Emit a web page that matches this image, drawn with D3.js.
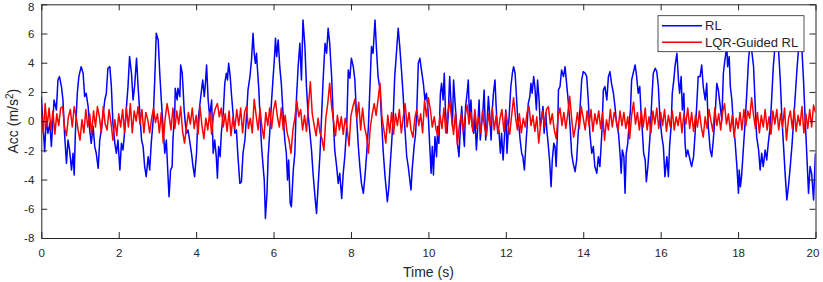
<!DOCTYPE html>
<html><head><meta charset="utf-8">
<script src="https://cdn.jsdelivr.net/npm/d3@7/dist/d3.min.js"></script>
<style>
body{margin:0;background:#fff}
svg{display:block}
text{font-family:"Liberation Sans",Arial,Helvetica,sans-serif;fill:#262626}
</style>
</head><body>
<svg id="chart" width="823" height="282"></svg>
<script>
// ---------- data ----------
const xTickValues = [0,2,4,6,8,10,12,14,16,18,20];
const yTickValues = [-8,-6,-4,-2,0,2,4,6,8];
const seriesNames = ["RL","LQR-Guided RL"];
const seriesColors = ["#0000FF","#FF0000"];
const xLabel = "Time (s)";

// RL acceleration: [time (s), acc (m/s^2)]
const rlSamples = [
[0,1.68],[0.087,-2.09],[0.13,0.31],[0.17,-0.83],[0.22,-0.15],[0.26,-1.74],[0.33,1.45],[0.39,0.77],[0.43,2.82],[0.47,3.05],[0.52,2.37],[0.56,1.45],[0.60,-0.83],[0.65,-2.89],[0.69,-1.29],[0.73,-1.97],[0.78,-3.34],[0.82,-2.2],[0.85,-3.69],[0.88,-0.83],[0.93,1.91],[0.97,3.05],[1.03,3.73],[1.08,3.28],[1.12,1.68],[1.16,1.91],[1.21,1.0],[1.25,-0.6],[1.29,-1.52],[1.34,-0.37],[1.38,-1.74],[1.42,-2.2],[1.47,-3.23],[1.51,-1.29],[1.55,-0.6],[1.59,0.31],[1.64,1.45],[1.68,1.91],[1.72,3.62],[1.77,3.73],[1.81,2.37],[1.85,-0.15],[1.90,-1.52],[1.94,-2.2],[1.98,-1.29],[2.03,-3.34],[2.07,-1.52],[2.11,-1.97],[2.15,-0.83],[2.20,1.0],[2.24,2.37],[2.28,4.42],[2.33,3.28],[2.37,1.45],[2.41,2.37],[2.46,4.31],[2.50,2.37],[2.54,0.77],[2.59,-1.29],[2.63,-1.74],[2.67,-3.11],[2.71,-3.80],[2.76,-2.43],[2.80,-3.34],[2.84,-1.52],[2.89,0.08],[2.93,2.82],[2.97,6.02],[3.02,5.56],[3.06,3.28],[3.10,1.45],[3.15,-0.6],[3.19,-2.2],[3.23,-1.29],[3.27,-3.57],
[3.30,-5.17],[3.34,-3.34],[3.38,-3.11],[3.40,-1.29],[3.45,0.77],[3.46,2.25],[3.51,1.45],[3.53,2.25],[3.58,1.68],[3.60,3.85],[3.64,3.28],[3.66,2.37],[3.69,0.77],[3.72,-0.15],[3.75,-0.83],[3.79,-0.6],[3.83,-1.29],[3.88,-2.2],[3.92,-3.11],[3.96,-3.80],[4.01,-2.2],[4.03,-0.83],[4.07,0.54],[4.11,1.45],[4.14,2.14],[4.17,2.82],[4.21,1.68],[4.24,2.59],[4.27,3.85],[4.31,1.45],[4.35,0.31],[4.40,1.45],[4.44,-2.2],[4.48,-1.29],[4.52,-2.43],[4.55,-3.91],[4.58,-1.74],[4.62,-2.43],[4.65,-0.83],[4.70,0.54],[4.74,2.59],[4.78,3.28],[4.81,2.82],[4.84,3.96],[4.88,3.05],[4.91,1.91],[4.96,0.31],[5.00,-0.83],[5.04,-0.6],[5.08,-2.43],[5.13,-4.26],[5.17,-4.15],[5.21,-2.2],[5.26,-1.29],[5.30,0.31],[5.34,2.14],[5.39,3.05],[5.43,4.19],[5.47,6.02],[5.50,4.65],[5.53,3.96],[5.56,4.65],[5.58,3.73],[5.62,2.14],[5.65,0.31],[5.69,-1.74],[5.73,-3.11],[5.76,-4.03],[5.79,-6.66],[5.83,-4.94],[5.86,-2.43],[5.90,-0.83],[5.95,1.45],[5.99,3.05],[6.02,4.19],[6.05,5.67],[6.08,4.42],[6.12,5.56],[6.16,3.73],[6.20,2.59],[6.25,0.31],[6.29,-1.29],[6.33,-2.2],[6.36,-4.03],[6.39,-2.66],[6.43,-5.63],[6.46,-5.86],[6.51,-3.34],[6.55,-2.2],[6.59,1.45],
[6.635,3.73],[6.68,5.33],[6.72,2.82],[6.76,6.93],[6.81,5.11],[6.85,2.37],[6.89,0.54],[6.94,-0.83],[6.98,-1.97],[7.02,-3.57],[7.07,-5.17],[7.11,-6.32],[7.15,-4.48],[7.20,-2.2],[7.24,0.31],[7.28,2.82],[7.33,5.33],[7.37,4.65],[7.41,6.36],[7.45,5.33],[7.50,3.05],[7.54,0.31],[7.58,-1.97],[7.63,-3.11],[7.67,-4.26],[7.71,-3.57],[7.76,-5.29],[7.80,-3.57],[7.84,-2.43],[7.89,-0.37],[7.93,3.5],[7.97,2.94],[8.01,4.31],[8.06,3.73],[8.10,2.82],[8.14,0.54],[8.19,-1.74],[8.23,-3.11],[8.27,-4.26],[8.32,-4.94],[8.36,-3.80],[8.40,-2.43],[8.45,-0.37],[8.49,2.37],[8.53,5.11],[8.57,4.65],[8.62,6.93],[8.66,4.88],[8.70,3.05],[8.75,2.14],[8.79,0.08],[8.83,-1.97],[8.88,-3.80],[8.92,-4.94],[8.94,-5.52],[8.98,-4.48],[9.01,-3.11],[9.05,-1.52],[9.09,0.31],[9.13,3.05],[9.18,4.88],[9.22,6.36],[9.26,5.11],[9.31,3.28],[9.35,1.68],[9.39,-0.37],[9.44,-2.43],[9.48,-3.11],[9.52,-4.03],[9.55,-4.71],[9.58,-3.34],[9.63,-1.74],[9.67,-0.83],[9.70,0.77],[9.74,3.96],[9.78,4.31],[9.82,3.5],[9.87,2.59],[9.91,1.45],[9.95,1.91],[9.99,0.77],
[10.04,-1.97],[10.07,-3.57],[10.10,-1.74],[10.13,-3.69],[10.17,-1.06],[10.21,-2.43],[10.24,-0.37],[10.27,-1.52],[10.31,1.91],[10.34,2.59],[10.38,1.45],[10.41,3.28],[10.44,0.77],[10.48,-0.83],[10.51,0.31],[10.55,3.05],[10.58,1.45],[10.62,-0.37],[10.65,2.82],[10.69,1.22],[10.72,0.08],[10.75,-1.52],[10.79,-2.43],[10.82,-0.83],[10.86,1.0],[10.89,-0.37],[10.93,-1.74],[10.96,1.0],[11.00,1.91],[11.03,2.82],[11.06,0.31],[11.10,1.45],[11.13,-0.37],[11.17,-0.83],[11.20,0.31],[11.24,-1.97],[11.27,-0.6],[11.31,1.45],[11.34,-1.29],[11.37,-0.37],[11.41,0.77],[11.44,2.14],[11.48,-1.29],[11.51,-0.37],[11.55,1.68],[11.58,0.54],[11.62,-1.29],[11.65,0.77],[11.68,1.91],[11.72,2.82],[11.75,1.0],[11.79,-0.83],[11.82,-0.6],[11.86,-2.2],[11.89,-0.83],[11.93,-2.66],[11.96,-1.29],[12.00,0.77],[12.03,-2.2],[12.06,-0.83],[12.10,1.0],[12.13,2.37],[12.17,3.28],[12.20,3.73],[12.24,3.28],[12.27,1.91],[12.31,0.08],[12.34,-0.37],[12.37,-1.29],[12.41,-2.2],[12.44,-2.43],[12.48,-3.34],[12.51,-1.97],[12.55,-0.37],[12.58,1.22],[12.62,1.68],[12.65,2.59],[12.68,1.91],[12.72,3.05],[12.75,2.37],[12.79,0.77],[12.82,2.82],[12.86,1.45],[12.89,-0.37],[12.93,0.31],[12.96,1.0],[12.99,-0.83],[13.03,0.54],[13.06,-0.6],[13.10,-1.74],[13.13,-2.66],[13.17,-4.49],[13.20,-2.66],[13.24,-1.52],[13.27,-1.74],[13.30,-3.11],[13.34,-0.37],
[13.36,2.14],[13.40,2.37],[13.44,3.5],[13.49,3.05],[13.53,3.73],[13.57,2.59],[13.61,1.45],[13.66,-0.37],[13.70,-2.2],[13.74,-2.89],[13.79,-3.46],[13.83,-2.66],[13.87,-0.83],[13.92,1.0],[13.96,2.82],[14.00,3.39],[14.05,3.28],[14.09,3.05],[14.13,1.45],[14.17,-0.83],[14.22,-2.2],[14.26,-1.74],[14.30,-3.11],[14.35,-3.57],[14.39,-2.43],[14.43,-3.11],[14.48,-0.83],[14.52,2.14],[14.56,2.37],[14.61,1.45],[14.65,3.05],[14.69,3.39],[14.73,2.59],[14.78,1.91],[14.82,1.0],[14.86,-0.15],[14.91,-0.83],[14.95,-2.2],[14.98,-3.57],[15.01,-1.97],[15.05,-2.43],[15.08,-4.94],[15.11,-2.2],[15.15,-1.52],[15.18,-0.37],[15.22,0.77],[15.25,2.82],[15.29,3.28],[15.34,3.85],[15.38,3.05],[15.42,1.91],[15.46,2.37],[15.49,0.77],[15.53,-0.83],[15.56,-2.2],[15.60,-2.66],[15.63,-4.15],[15.67,-3.11],[15.70,-1.97],[15.73,-0.83],[15.77,1.45],[15.81,3.28],[15.86,3.62],[15.90,3.39],[15.94,2.37],[15.98,0.31],[16.03,-1.06],[16.07,-1.74],[16.11,-3.80],[16.16,-2.43],[16.20,-3.80],[16.23,-1.74],[16.27,-0.37],[16.30,1.91],[16.34,2.82],[16.37,3.73],[16.42,4.65],[16.46,2.82],[16.49,1.91],[16.53,3.05],[16.56,0.77],[16.60,1.91],[16.63,-1.52],[16.66,-2.43],[16.70,-1.97],
[16.76,-2.66],[16.80,-3.11],[16.85,-2.43],[16.89,-0.83],[16.93,1.0],[16.97,3.05],[17.02,3.05],[17.06,3.85],[17.10,2.37],[17.15,1.45],[17.19,2.59],[17.23,-0.37],[17.28,-1.97],[17.32,-2.43],[17.36,-1.29],[17.41,0.54],[17.45,2.59],[17.49,2.14],[17.53,1.22],[17.58,0.08],[17.62,3.28],[17.66,4.19],[17.71,5.1],[17.73,3.73],[17.77,4.42],[17.80,2.37],[17.84,1.45],[17.88,-0.37],[17.92,-1.29],[17.97,-3.11],[18.01,-4.94],[18.03,-3.34],[18.06,-4.49],[18.09,-3.80],[18.14,-1.74],[18.18,-0.15],[18.22,1.68],[18.27,4.19],[18.31,5.33],[18.35,4.88],[18.40,3.73],[18.44,1.22],[18.48,-1.06],[18.53,-1.97],[18.57,-3.34],[18.61,-2.2],[18.65,-3.11],[18.70,-1.97],[18.74,-2.66],[18.78,-1.52],[18.83,-0.37],[18.87,1.68],[18.91,3.73],[18.96,5.33],[19.00,4.88],[19.04,5.1],[19.09,2.82],[19.13,0.31],[19.17,-1.52],[19.22,-3.80],[19.26,-5.4],[19.30,-4.49],[19.34,-3.34],[19.39,-1.74],[19.43,-0.15],[19.47,1.45],[19.52,3.5],[19.56,4.88],[19.60,5.33],[19.65,4.88],[19.69,2.82],[19.73,0.31],[19.77,-1.97],[19.82,-4.94],[19.86,-3.11],[19.90,-3.57],[19.95,-5.4],[19.99,-2.66],[20.0,-2.2]
];

// LQR-Guided RL acceleration, sampled every lqrStep seconds from t = 0
const lqrStep = 0.05;
const lqrAcc = [
0.8,-0.8,1.2,-0.4,0.9,-0.6,0.7,-0.9,0.5,-0.3,0.9,1.0,-0.4,-1.0,0.3,0.8,-0.4,1.0,0.3,-0.6,
-1.3,0.1,-0.8,0.8,-0.4,0.5,-0.9,0.7,-0.4,1.0,0.3,-0.8,1.0,-0.2,-0.6,0.8,-0.1,-1.3,0.1,-1.0,
0.5,-0.4,0.8,-0.8,0.9,-0.4,1.2,-0.8,0.7,0.0,1.0,-0.2,0.8,-0.8,0.6,0.1,-0.8,0.2,0.9,-0.1,
0.5,-0.8,0.6,-1.5,0.2,1.2,0.4,-0.6,0.9,-0.5,0.7,-0.2,1.0,-0.7,-1.5,-0.4,0.6,-0.2,0.9,-0.5,
0.4,-0.9,1.0,-0.3,-1.2,0.2,-0.6,0.6,-0.9,0.4,0.9,1.2,0.3,0.9,-0.4,0.5,-0.7,0.7,-1.0,0.3,
-0.5,0.8,-0.3,0.9,-0.8,0.6,1.0,-0.5,0.2,-0.8,1.5,0.4,-0.6,0.9,-0.4,-1.2,0.6,-0.3,0.9,-0.5,
0.8,1.4,0.3,-0.4,0.9,-0.6,0.4,-0.8,-1.3,-2.2,-0.6,0.2,1.4,0.3,0.8,-0.6,0.4,-0.7,1.0,2.7,
0.5,-0.3,-1.0,0.2,-0.8,-1.2,-2.0,0.2,1.2,2.6,1.0,0.0,-1.0,0.4,-0.6,0.3,-0.9,0.2,-0.5,-1.7,
0.4,1.0,1.5,0.2,1.3,-0.6,0.9,-0.4,-1.0,-2.2,-0.4,0.5,1.2,0.4,1.5,2.6,0.3,-0.6,-1.5,0.4,
-0.8,0.6,-0.9,0.5,-0.3,0.8,-0.8,0.3,1.2,-0.4,0.6,-0.6,-1.1,0.2,0.8,-0.3,0.5,-0.8,1.4,0.3,
1.6,0.8,-0.4,0.3,-0.6,-1.0,0.4,-0.5,0.9,-0.8,0.5,1.4,0.2,-0.9,0.6,-1.6,-0.3,0.5,-0.7,0.4,
1.1,-0.2,0.6,-0.7,0.8,-0.5,0.3,-0.8,0.7,-0.4,-1.0,0.5,-0.3,0.9,-0.6,0.4,-0.8,0.2,0.8,-0.7,
0.6,-0.2,-0.9,0.4,1.6,0.3,-0.6,0.5,-0.8,0.2,-0.4,0.6,1.0,-0.3,0.4,-0.7,0.3,-1.5,-0.2,0.7,
-0.4,0.8,1.0,-0.2,0.5,-0.6,-1.2,0.3,0.9,-0.3,0.6,-0.5,0.5,1.7,0.2,-1.1,-0.4,0.6,-0.5,1.0,
0.2,-0.6,0.7,-0.3,0.8,-0.7,0.5,-0.2,0.7,-0.5,0.6,-1.3,0.1,-0.6,0.8,-0.4,0.6,0.1,-0.6,0.7,
-0.3,0.6,-0.5,0.3,-1.2,0.4,1.3,-0.2,0.6,-0.6,0.7,-0.4,0.9,-0.6,0.3,-0.8,0.7,-0.2,0.9,-0.5,
0.6,-0.3,0.8,-0.7,0.4,-0.4,0.7,-0.6,0.3,-0.3,0.6,-0.8,0.5,-0.2,0.9,-0.5,0.6,-0.7,0.4,-0.4,
0.7,-0.4,-1.1,0.3,-0.5,0.8,0.0,-0.7,0.9,-0.3,0.5,-0.6,0.6,1.2,-0.2,0.5,-0.7,0.4,-1.1,0.2,
-0.5,0.6,-0.6,0.8,-0.3,0.7,0.2,1.6,0.4,-0.5,0.6,-0.8,0.4,-0.4,0.8,-0.6,0.3,-0.9,0.7,-0.2,
0.8,-0.6,0.5,-0.4,0.9,-1.3,0.1,0.7,-0.5,0.8,-0.7,0.4,-0.3,1.0,-0.8,0.5,-0.5,0.8,-0.4,1.1,
0.6
];

// ---------- drawing ----------
const svg = d3.select("#chart");
const W = 823, H = 282;
const plot = {left: 41.3, right: 815.5, top: 4.3, bottom: 238};
const axisColor = "#262626";

const x = d3.scaleLinear().domain([0, 20]).range([plot.left, plot.right]);
const y = d3.scaleLinear().domain([-8, 8]).range([plot.bottom, plot.top]);

svg.append("rect").attr("width", W).attr("height", H).attr("fill", "#fff");

svg.append("defs").append("clipPath").attr("id", "clip")
  .append("rect")
  .attr("x", plot.left).attr("y", plot.top)
  .attr("width", plot.right - plot.left).attr("height", plot.bottom - plot.top);

const lqrSamples = lqrAcc.map((v, i) => [i * lqrStep, v]);

const line = d3.line().x(d => x(d[0])).y(d => y(d[1]));

const lines = svg.append("g").attr("clip-path", "url(#clip)");
lines.append("path").datum(rlSamples)
  .attr("d", line).attr("fill", "none")
  .attr("stroke", seriesColors[0]).attr("stroke-width", 1.5)
  .attr("stroke-linejoin", "round");
lines.append("path").datum(lqrSamples)
  .attr("d", line).attr("fill", "none")
  .attr("stroke", seriesColors[1]).attr("stroke-width", 1.5)
  .attr("stroke-linejoin", "round");

function styleAxis(g) {
  g.selectAll("path.domain").attr("stroke", axisColor).attr("stroke-width", 1);
  g.selectAll(".tick line").attr("stroke", axisColor).attr("stroke-width", 1);
  g.selectAll(".tick text").attr("fill", axisColor)
    .style("font-family", '"Liberation Sans", Arial, sans-serif').style("font-size", "11.5px");
}

const tickLen = 6;
const gx = svg.append("g").attr("transform", `translate(0,${plot.bottom})`)
  .call(d3.axisBottom(x).tickValues(xTickValues).tickFormat(d3.format("d"))
        .tickSizeInner(-tickLen).tickSizeOuter(0).tickPadding(11))
  .call(styleAxis);
svg.append("g").attr("transform", `translate(0,${plot.top})`)
  .call(d3.axisTop(x).tickValues(xTickValues).tickFormat("")
        .tickSizeInner(-tickLen).tickSizeOuter(0))
  .call(styleAxis);
const gy = svg.append("g").attr("transform", `translate(${plot.left},0)`)
  .call(d3.axisLeft(y).tickValues(yTickValues).tickFormat(d3.format("d"))
        .tickSizeInner(-tickLen).tickSizeOuter(0).tickPadding(7))
  .call(styleAxis);
svg.append("g").attr("transform", `translate(${plot.right},0)`)
  .call(d3.axisRight(y).tickValues(yTickValues).tickFormat("")
        .tickSizeInner(-tickLen).tickSizeOuter(0))
  .call(styleAxis);

// hyphen minus like MATLAB
svg.selectAll(".tick text").text(function(){ return d3.select(this).text().replace("\u2212","-"); });
// keep the end labels inside the figure, as in the reference
gy.selectAll(".tick").filter(d => d === 8).select("text").attr("dy", "0.55em");
gx.selectAll(".tick").filter(d => d === 20).select("text").attr("dx", "-3");

// axis labels
svg.append("text")
  .attr("x", (plot.left + plot.right) / 2).attr("y", 277)
  .attr("text-anchor", "middle").style("font-size", "14px")
  .text(xLabel);

const yl = svg.append("text")
  .attr("transform", `translate(18,${(plot.top + plot.bottom) / 2}) rotate(-90)`)
  .attr("text-anchor", "middle").style("font-size", "14px");
yl.append("tspan").text("Acc (m/s");
yl.append("tspan").attr("dy", -5).style("font-size", "10px").text("2");
yl.append("tspan").attr("dy", 5).text(")");

// legend
const lg = svg.append("g");
lg.append("rect").attr("x", 658).attr("y", 15.7).attr("width", 146).attr("height", 36)
  .attr("fill", "#fff").attr("stroke", axisColor).attr("stroke-width", 0.8);
const legendRows = [25.7, 42.3];
seriesNames.forEach((name, i) => {
  lg.append("line").attr("x1", 662).attr("x2", 702)
    .attr("y1", legendRows[i]).attr("y2", legendRows[i])
    .attr("stroke", seriesColors[i]).attr("stroke-width", 1.4);
  lg.append("text").attr("x", 705).attr("y", legendRows[i])
    .attr("dy", "0.35em").style("font-size", "13px").text(name);
});
</script>
</body></html>
